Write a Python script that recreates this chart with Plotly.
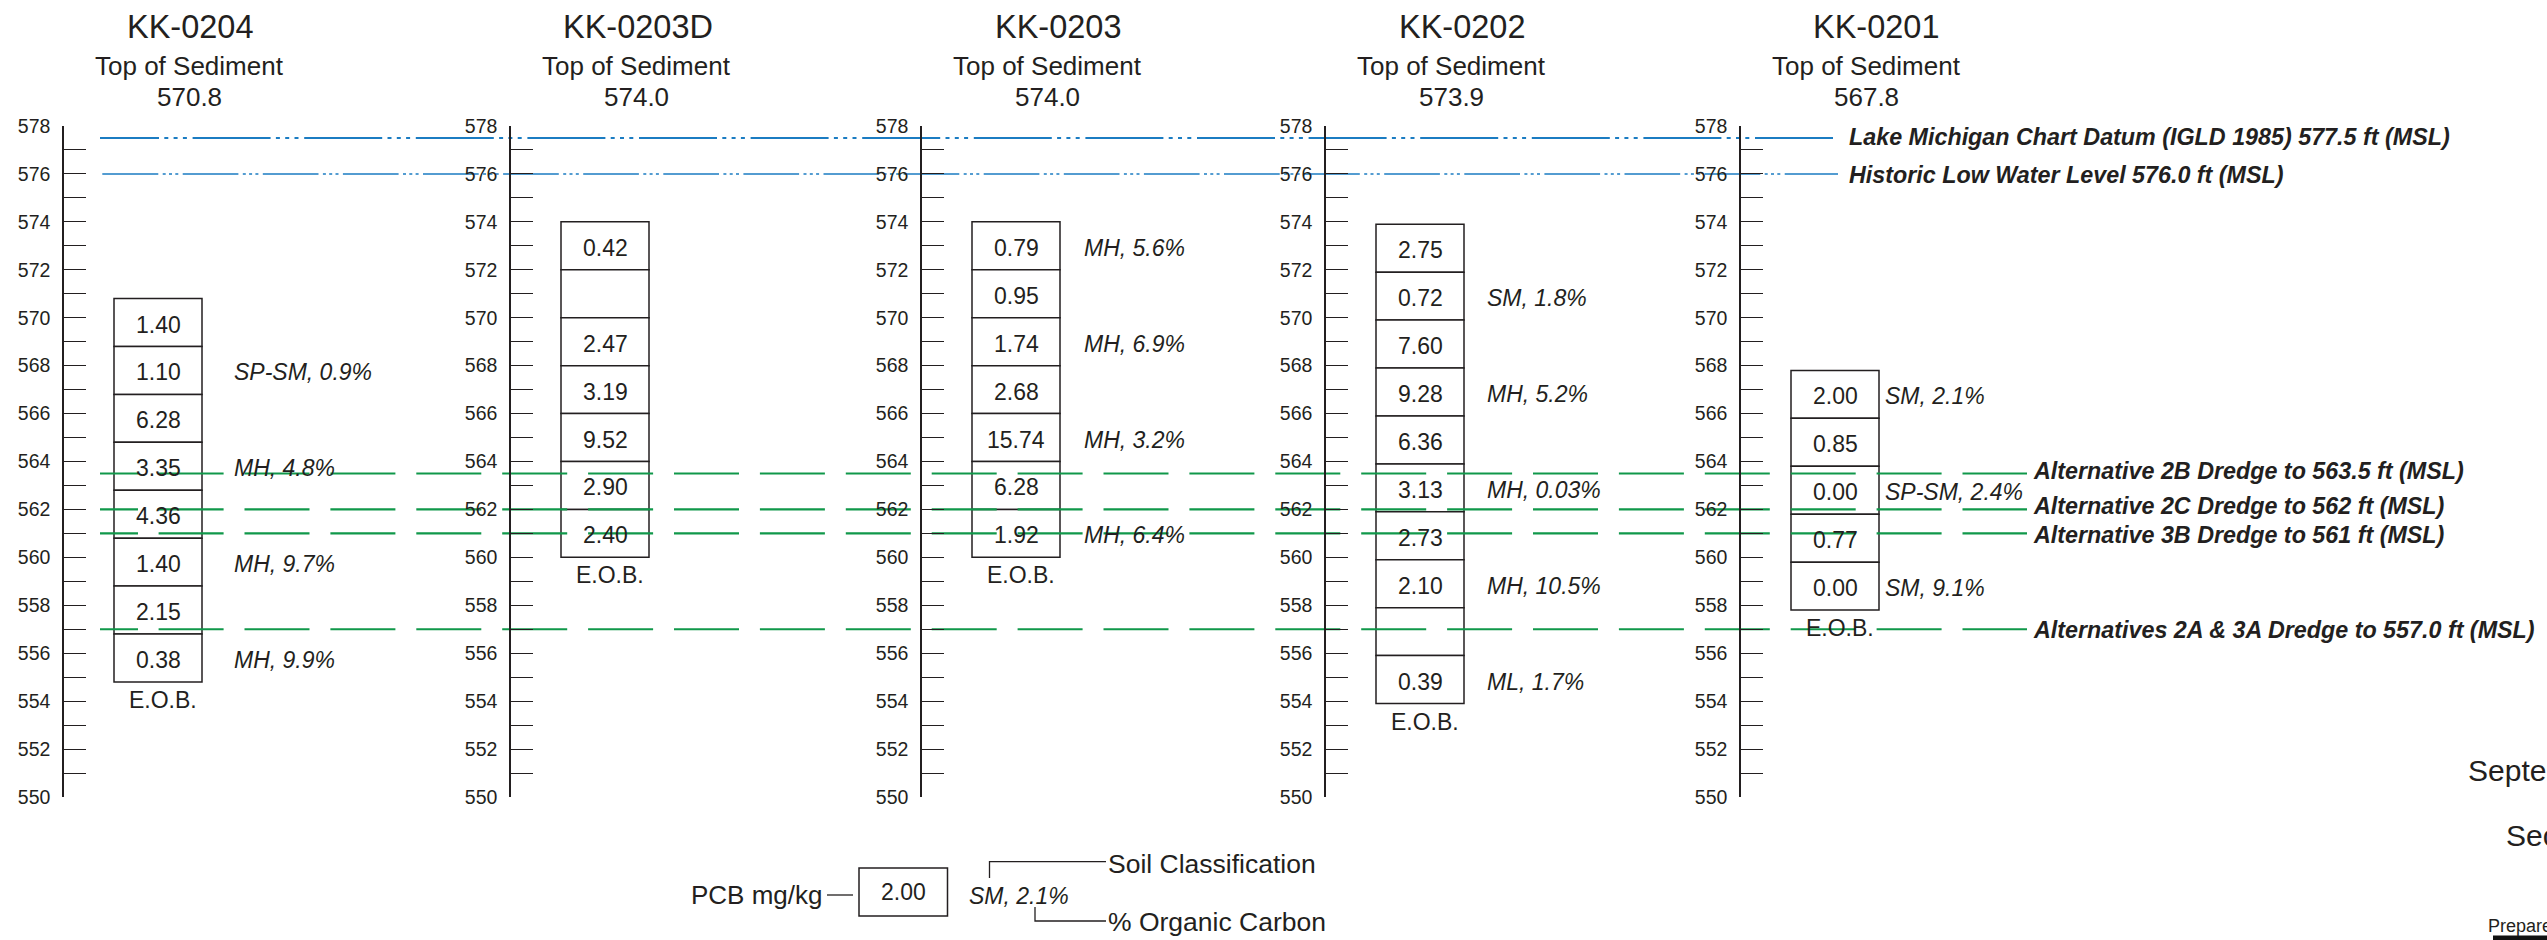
import plotly.graph_objects as go

# ---------------- data ----------------
core_ids = ["KK-0204", "KK-0203D", "KK-0203", "KK-0202", "KK-0201"]
top_of_sediment = [570.8, 574.0, 574.0, 573.9, 567.8]
layer_thickness = 2.0  # ft per sample interval

pcb_kk0204 = ["1.40", "1.10", "6.28", "3.35", "4.36", "1.40", "2.15", "0.38"]
soil_kk0204 = ["", "SP-SM, 0.9%", "", "MH, 4.8%", "", "MH, 9.7%", "", "MH, 9.9%"]

pcb_kk0203d = ["0.42", "", "2.47", "3.19", "9.52", "2.90", "2.40"]
soil_kk0203d = ["", "", "", "", "", "", ""]

pcb_kk0203 = ["0.79", "0.95", "1.74", "2.68", "15.74", "6.28", "1.92"]
soil_kk0203 = ["MH, 5.6%", "", "MH, 6.9%", "", "MH, 3.2%", "", "MH, 6.4%"]

pcb_kk0202 = ["2.75", "0.72", "7.60", "9.28", "6.36", "3.13", "2.73", "2.10", "", "0.39"]
soil_kk0202 = ["", "SM, 1.8%", "", "MH, 5.2%", "", "MH, 0.03%", "", "MH, 10.5%", "", "ML, 1.7%"]

pcb_kk0201 = ["2.00", "0.85", "0.00", "0.77", "0.00"]
soil_kk0201 = ["SM, 2.1%", "", "SP-SM, 2.4%", "", "SM, 9.1%"]

pcb_values = [pcb_kk0204, pcb_kk0203d, pcb_kk0203, pcb_kk0202, pcb_kk0201]
soil_values = [soil_kk0204, soil_kk0203d, soil_kk0203, soil_kk0202, soil_kk0201]

water_levels = [577.5, 576.0]
water_labels = ["Lake Michigan Chart Datum (IGLD 1985) 577.5 ft (MSL)",
                "Historic Low Water Level 576.0 ft (MSL)"]
dredge_levels = [563.5, 562.0, 561.0, 557.0]
dredge_labels = ["Alternative 2B Dredge to 563.5 ft (MSL)",
                 "Alternative 2C Dredge to 562 ft (MSL)",
                 "Alternative 3B Dredge to 561 ft (MSL)",
                 "Alternatives 2A & 3A Dredge to 557.0 ft (MSL)"]
elev_min, elev_max = 550, 578

legend_pcb = "2.00"
legend_soil = "SM, 2.1%"

# ---------------- layout constants ----------------
W, H = 2547, 940
FONT = "Liberation Sans, Arial, Helvetica, sans-serif"
INK = "#231f20"
BLUE = "#1b7cc2"
GREEN = "#10984a"

axis_px = [63, 510, 921, 1325, 1740]
box_off, box_w = 51, 88
title_off = [127, 127.5, 136.5, 136.5, 136]
sub_off = 126
soil_off = [169, 160, 160.7, 160, 142.6]
y_top_px, y_bot_px = 126, 797
text_shift = -2  # px, fine vertical centring of texts inside layers


def py(p):
    return 1 - p / H


fig = go.Figure()

# core boxes
for i, (top, pcb) in enumerate(zip(top_of_sediment, pcb_values)):
    n = len(pcb)
    bases = [top - layer_thickness * (k + 1) for k in range(n)]
    cx = axis_px[i] + box_off + box_w / 2
    fig.add_trace(go.Bar(
        x=[cx] * n, y=[layer_thickness] * n, base=bases, width=box_w,
        marker=dict(color="white", line=dict(color=INK, width=1.5)),
        hoverinfo="skip", showlegend=False))

annotations = []

# values in boxes and soil classification labels
for i, (top, pcb) in enumerate(zip(top_of_sediment, pcb_values)):
    cx = axis_px[i] + box_off + box_w / 2
    for k, (val, soil) in enumerate(zip(pcb, soil_values[i])):
        mid = top - layer_thickness * (k + 0.5)
        if val:
            annotations.append(dict(x=cx, y=mid, xref="x", yref="y", yshift=text_shift,
                                    text=val, showarrow=False, xanchor="center", yanchor="middle",
                                    font=dict(family=FONT, size=23, color=INK)))
        if soil:
            annotations.append(dict(x=axis_px[i] + soil_off[i], y=mid, xref="x", yref="y",
                                    yshift=text_shift, text=f"<i>{soil}</i>", showarrow=False,
                                    xanchor="left", yanchor="middle",
                                    font=dict(family=FONT, size=23, color=INK)))

# water level lines
blue_dash = [
    "59px," + ",".join(["5.3px,4px,5.3px,4px,5.3px,4px,5.7px,78px"] * 16),
    "56px," + ",".join(["4.4px,3px,3.3px,3px,3.3px,3px,4.4px,55.7px"] * 22),
]
blue_start = [100, 102.3]
blue_width = [2.2, 1.6]
blue_end = 1838
for lvl, d, xs, lw in zip(water_levels, blue_dash, blue_start, blue_width):
    fig.add_trace(go.Scatter(
        x=[xs, blue_end], y=[lvl, lvl], mode="lines",
        line=dict(color=BLUE, width=lw, dash=d),
        hoverinfo="skip", showlegend=False))

green_dash = "38px,20.6px," + ",".join(["65px,20.9px"] * 24)
green_end = 2027
for lvl in dredge_levels:
    fig.add_trace(go.Scatter(
        x=[100, green_end], y=[lvl, lvl], mode="lines",
        line=dict(color=GREEN, width=2.2, dash=green_dash),
        hoverinfo="skip", showlegend=False))

# dummy traces so every depth axis is drawn
for k in range(2, 6):
    fig.add_trace(go.Scatter(x=[None], y=[None], yaxis=f"y{k}", mode="markers",
                             showlegend=False, hoverinfo="skip"))

# titles
for i, (cid, top) in enumerate(zip(core_ids, top_of_sediment)):
    annotations.append(dict(x=axis_px[i] + title_off[i], y=py(27), xref="x", yref="paper",
                            text=cid, showarrow=False, xanchor="center", yanchor="middle",
                            font=dict(family=FONT, size=32.5, color=INK)))
    annotations.append(dict(x=axis_px[i] + sub_off, y=py(66), xref="x", yref="paper",
                            text="Top of Sediment", showarrow=False, xanchor="center", yanchor="middle",
                            font=dict(family=FONT, size=26, color=INK)))
    annotations.append(dict(x=axis_px[i] + sub_off, y=py(96.5), xref="x", yref="paper",
                            text=f"{top:.1f}", showarrow=False, xanchor="center", yanchor="middle",
                            font=dict(family=FONT, size=26, color=INK)))
    bottom = top - layer_thickness * len(pcb_values[i])
    annotations.append(dict(x=axis_px[i] + box_off + box_w / 2 + 4.5, y=bottom, xref="x", yref="y",
                            yshift=-18, text="E.O.B.", showarrow=False, xanchor="center",
                            yanchor="middle", font=dict(family=FONT, size=23, color=INK)))

# level labels
for lvl, lab, ys in zip(water_levels, water_labels, [1, -1]):
    annotations.append(dict(x=1847, y=lvl, xref="x", yref="y", yshift=ys, text=f"<b><i>{lab}</i></b>",
                            showarrow=False, xanchor="left", yanchor="middle",
                            font=dict(family=FONT, size=23.3, color=INK)))
for lvl, lab, ys in zip(dredge_levels, dredge_labels, [2, 3.5, -2, -1]):
    annotations.append(dict(x=2031, y=lvl, xref="x", yref="y", yshift=ys, text=f"<b><i>{lab}</i></b>",
                            showarrow=False, xanchor="left", yanchor="middle",
                            font=dict(family=FONT, size=23.3, color=INK)))

# key
annotations += [
    dict(x=825, y=py(895), xref="x", yref="paper", text="PCB mg/kg", showarrow=False,
         xanchor="right", yanchor="middle", font=dict(family=FONT, size=26, color=INK)),
    dict(x=903, y=py(892), xref="x", yref="paper", text=legend_pcb, showarrow=False,
         xanchor="center", yanchor="middle", font=dict(family=FONT, size=23, color=INK)),
    dict(x=967, y=py(896), xref="x", yref="paper", text=f"<i>{legend_soil}</i>", showarrow=False,
         xanchor="left", yanchor="middle", font=dict(family=FONT, size=23, color=INK)),
    dict(x=1106, y=py(864), xref="x", yref="paper", text="Soil Classification", showarrow=False,
         xanchor="left", yanchor="middle", font=dict(family=FONT, size=26.5, color=INK)),
    dict(x=1106, y=py(922), xref="x", yref="paper", text="% Organic Carbon", showarrow=False,
         xanchor="left", yanchor="middle", font=dict(family=FONT, size=26.5, color=INK)),
    dict(x=2466, y=py(770), xref="x", yref="paper", text="Septem", showarrow=False,
         xanchor="left", yanchor="middle", font=dict(family=FONT, size=30, color=INK)),
    dict(x=2504, y=py(835), xref="x", yref="paper", text="Sect", showarrow=False,
         xanchor="left", yanchor="middle", font=dict(family=FONT, size=30, color=INK)),
    dict(x=2486, y=py(926), xref="x", yref="paper", text="Prepared", showarrow=False,
         xanchor="left", yanchor="middle", font=dict(family=FONT, size=18, color=INK)),
]

ln = dict(color=INK, width=1.3)
shapes = [
    dict(type="rect", xref="x", yref="paper", x0=859, x1=947.5, y0=py(916), y1=py(868),
         line=dict(color=INK, width=1.5), fillcolor="white"),
    dict(type="line", xref="x", yref="paper", x0=827, x1=853, y0=py(895), y1=py(895), line=ln),
    dict(type="path", xref="x", yref="paper",
         path=f"M 989.5,{py(878)} L 989.5,{py(861.7)} L 1106,{py(861.7)}", line=ln),
    dict(type="path", xref="x", yref="paper",
         path=f"M 1035,{py(907)} L 1035,{py(921)} L 1106,{py(921)}", line=ln),
    dict(type="rect", xref="x", yref="paper", x0=2493, x1=2560, y0=py(945), y1=py(935.5),
         line=dict(width=0), fillcolor="#111111"),
]

axis_common = dict(
    range=[elev_min, elev_max], tickmode="linear", tick0=elev_min, dtick=2,
    ticks="inside", ticklen=22, tickwidth=1.3, tickcolor=INK,
    minor=dict(tick0=elev_min, dtick=1, ticks="inside", ticklen=22, tickwidth=1.3,
               tickcolor=INK, showgrid=False),
    showgrid=False, zeroline=False, showline=True, linecolor=INK, linewidth=1.5,
    tickfont=dict(family=FONT, size=19.5, color=INK), ticklabelstandoff=8,
    fixedrange=True, automargin=False,
)

layout = dict(
    template="none",
    width=W, height=H, autosize=False,
    margin=dict(l=0, r=0, t=0, b=0, pad=0, autoexpand=False),
    paper_bgcolor="white", plot_bgcolor="white",
    barmode="overlay", showlegend=False,
    xaxis=dict(range=[0, W], domain=[0, 1], visible=False, fixedrange=True, automargin=False),
    yaxis=dict(domain=[py(y_bot_px), py(y_top_px)], anchor="free",
               position=axis_px[0] / W, **axis_common),
    annotations=annotations, shapes=shapes,
)
for k in range(2, 6):
    layout[f"yaxis{k}"] = dict(overlaying="y", anchor="free", position=axis_px[k - 1] / W,
                               side="left", **axis_common)

fig.update_layout(**layout)
fig.write_html("out.html", config={"displayModeBar": False},
               post_script="document.body.style.margin='0';")
